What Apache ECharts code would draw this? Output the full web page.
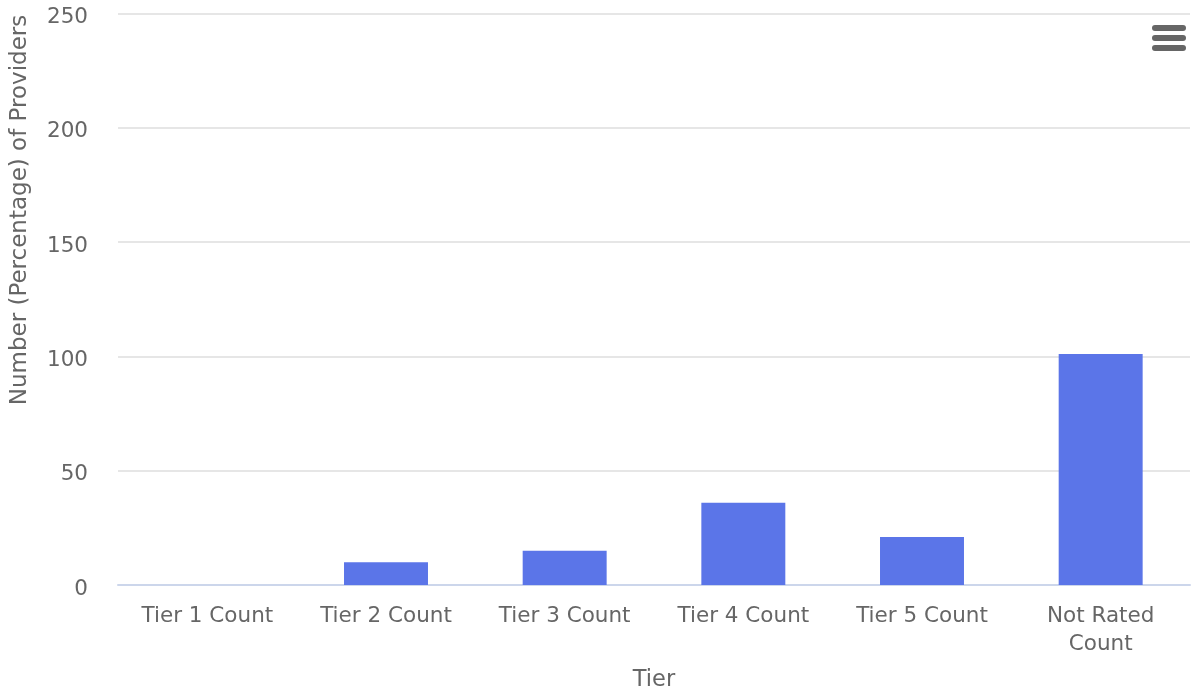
<!DOCTYPE html>
<html>
<head>
<meta charset="utf-8">
<script src="https://cdn.jsdelivr.net/npm/echarts@6/dist/echarts.min.js"></script>
<style>
html,body{margin:0;padding:0;background:#fff;}
#chart{width:1192px;height:694px;}
</style>
</head>
<body>
<div id="chart"></div>
<script>
const categories = ["Tier 1 Count", "Tier 2 Count", "Tier 3 Count", "Tier 4 Count", "Tier 5 Count", "Not Rated Count"];
const providerCounts = [0, 10, 15, 36, 21, 101];
const yTicks = [0, 50, 100, 150, 200, 250];
const xTitle = "Tier";
const yTitle = "Number (Percentage) of Providers";

const FONT = "'DejaVu Sans', sans-serif";
const chart = echarts.init(document.getElementById('chart'), null, {renderer: 'canvas'});
chart.setOption({
  animation: false,
  backgroundColor: '#ffffff',
  grid: {left: 118, right: 2, top: 13.5, bottom: 109, containLabel: false, outerBoundsMode: 'none'},
  xAxis: {
    type: 'category',
    data: categories,
    name: xTitle,
    nameLocation: 'middle',
    nameGap: 84,
    nameTextStyle: {color: '#666666', fontSize: 22.5, fontFamily: FONT},
    axisLine: {show: true, lineStyle: {color: '#ccd6eb', width: 2}},
    axisTick: {show: false},
    axisLabel: {
      color: '#666666', fontSize: 21.5, fontFamily: FONT, margin: 17,
      lineHeight: 28, interval: 0,
      formatter: v => v.length > 14 ? v.replace(/ (\S+)$/, '\n$1') : v
    }
  },
  yAxis: {
    type: 'value',
    min: yTicks[0],
    max: yTicks[yTicks.length - 1],
    interval: 50,
    axisLine: {show: false},
    axisTick: {show: false},
    splitLine: {lineStyle: {color: '#e6e6e6', width: 2}},
    axisLabel: {color: '#666666', fontSize: 21.5, fontFamily: FONT, margin: 30, verticalAlign: 'top', lineHeight: 8}
  },
  series: [{
    type: 'bar',
    data: providerCounts,
    barCategoryGap: '53%',
    itemStyle: {color: '#5b75e8'}
  }],
  graphic: [
    {
      type: 'text',
      x: 20, y: 210,
      rotation: Math.PI / 2,
      style: {
        text: yTitle, fill: '#666666', fontSize: 23, fontFamily: FONT,
        align: 'center', verticalAlign: 'middle'
      }
    },
    {type: 'rect', shape: {x: 1152, y: 25, width: 34, height: 6, r: 3}, style: {fill: '#666666'}},
    {type: 'rect', shape: {x: 1152, y: 35, width: 34, height: 6, r: 3}, style: {fill: '#666666'}},
    {type: 'rect', shape: {x: 1152, y: 45, width: 34, height: 6, r: 3}, style: {fill: '#666666'}}
  ]
});
</script>
</body>
</html>
